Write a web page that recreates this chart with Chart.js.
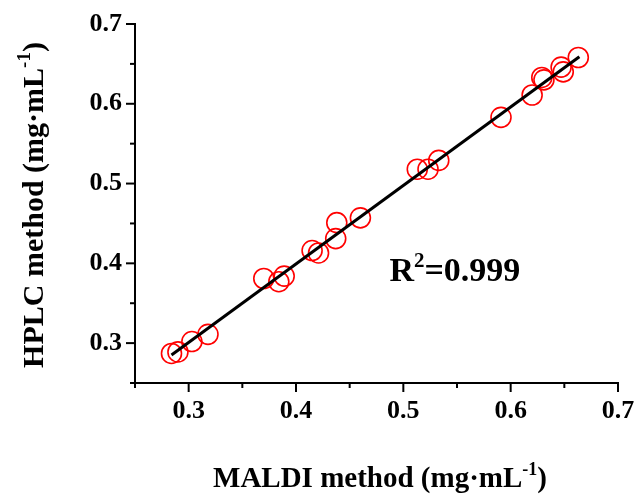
<!DOCTYPE html>
<html>
<head>
<meta charset="utf-8">
<script src="https://cdn.jsdelivr.net/npm/chart.js@4.4.1/dist/chart.umd.min.js"></script>
<style>
  html, body { margin: 0; padding: 0; background: #fff; }
  #wrap { width: 636px; height: 494px; position: relative; }
</style>
</head>
<body>
<div id="wrap"><canvas id="c"></canvas></div>
<script>
// MALDI method (x) vs HPLC method (y), mg·mL-1
const maldiValues = [0.284, 0.290, 0.303, 0.318, 0.370, 0.384, 0.389, 0.415, 0.421, 0.437, 0.438, 0.460, 0.513, 0.523, 0.533, 0.591, 0.620, 0.629, 0.631, 0.647, 0.649, 0.663];
const hplcValues  = [0.287, 0.289, 0.302, 0.311, 0.381, 0.377, 0.384, 0.416, 0.413, 0.431, 0.451, 0.457, 0.518, 0.518, 0.529, 0.583, 0.611, 0.633, 0.630, 0.646, 0.640, 0.658];
// linear fit line end points
const fitX = [0.284, 0.664];
const fitY = [0.285, 0.659];
const xTickLabels = ['0.3', '0.4', '0.5', '0.6', '0.7'];
const yTickLabels = ['0.3', '0.4', '0.5', '0.6', '0.7'];
const r2Text = { base: 'R', sup: '2', rest: '=0.999', x: 0.487, y: 0.378 };

const FONT = '"Liberation Serif", "Times New Roman", serif';

const scatterPts = maldiValues.map((v, i) => ({ x: v, y: hplcValues[i] }));
const fitPts = fitX.map((v, i) => ({ x: v, y: fitY[i] }));

function isMajor(v) { return Math.abs(v * 10 - Math.round(v * 10)) < 1e-6; }

function measureParts(ctx, parts, size) {
  let total = 0;
  const widths = parts.map(p => {
    ctx.font = 'bold ' + (p[1] ? Math.round(size * 0.62) : size) + 'px ' + FONT;
    const w = ctx.measureText(p[0]).width;
    total += w;
    return w;
  });
  return { total, widths };
}
function renderSupText(ctx, parts, size, x, y) {
  const m = measureParts(ctx, parts, size);
  let cx = x;
  parts.forEach((p, i) => {
    ctx.font = 'bold ' + (p[1] ? Math.round(size * 0.62) : size) + 'px ' + FONT;
    ctx.fillText(p[0], cx, p[1] ? y - size * 0.42 : y);
    cx += m.widths[i];
  });
  return m.total;
}

const annotPlugin = {
  id: 'annot',
  afterDraw(chart) {
    const ctx = chart.ctx;
    const xs = chart.scales.x, ys = chart.scales.y;
    ctx.save();
    ctx.fillStyle = '#000';
    ctx.strokeStyle = '#000';
    ctx.lineWidth = 2;
    xs.ticks.forEach(t => {
      const px = xs.getPixelForValue(t.value);
      const len = isMajor(t.value) ? 9 : 5;
      ctx.beginPath();
      ctx.moveTo(px, xs.top);
      ctx.lineTo(px, xs.top + len);
      ctx.stroke();
    });
    ys.ticks.forEach(t => {
      const py = ys.getPixelForValue(t.value);
      const len = isMajor(t.value) ? 9 : 5;
      ctx.beginPath();
      ctx.moveTo(ys.right, py);
      ctx.lineTo(ys.right - len, py);
      ctx.stroke();
    });
    ctx.textBaseline = 'alphabetic';
    ctx.textAlign = 'left';
    // x title
    const xParts = [['MALDI method (mg\u00B7mL', false], ['-1', true], [')', false]];
    const xm = measureParts(ctx, xParts, 29);
    renderSupText(ctx, xParts, 29, 380 - xm.total / 2, 487);
    // y title
    const yParts = [['HPLC method (mg\u00B7mL', false], ['-1', true], [')', false]];
    const ym = measureParts(ctx, yParts, 30);
    ctx.save();
    ctx.translate(43, 205);
    ctx.rotate(-Math.PI / 2);
    renderSupText(ctx, yParts, 30, -ym.total / 2, 0);
    ctx.restore();
    // R^2 annotation
    const ax = xs.getPixelForValue(r2Text.x);
    const ay = ys.getPixelForValue(r2Text.y);
    renderSupText(ctx, [[r2Text.base, false], [r2Text.sup, true], [r2Text.rest, false]], 34, ax, ay);
    ctx.restore();
  }
};

new Chart(document.getElementById('c'), {
  type: 'scatter',
  data: {
    datasets: [
      {
        type: 'line',
        data: fitPts,
        borderColor: '#000',
        borderWidth: 3,
        pointRadius: 0,
        fill: false,
        order: 0
      },
      {
        type: 'scatter',
        data: scatterPts,
        pointStyle: 'circle',
        pointRadius: 10,
        pointBorderWidth: 1.6,
        pointBorderColor: '#ff0000',
        pointBackgroundColor: 'rgba(0,0,0,0)',
        order: 1
      }
    ]
  },
  options: {
    responsive: true,
    maintainAspectRatio: false,
    animation: false,
    layout: { padding: 0 },
    plugins: { legend: { display: false }, tooltip: { enabled: false } },
    scales: {
      x: {
        type: 'linear',
        min: 0.25, max: 0.7,
        border: { display: true, color: '#000', width: 2 },
        grid: { display: true, drawOnChartArea: false, drawTicks: false },
        ticks: {
          stepSize: 0.05,
          padding: 13,
          color: '#000',
          maxRotation: 0,
          autoSkip: false,
          font: { family: FONT, weight: 'bold', size: 26 },
          callback: (v) => { const s = Number(v).toFixed(1); return isMajor(v) && xTickLabels.includes(s) ? s : ''; }
        },
        afterFit: (s) => { s.height = 111; s.paddingRight = 18; s.paddingLeft = 0; }
      },
      y: {
        type: 'linear',
        min: 0.25, max: 0.7,
        border: { display: true, color: '#000', width: 2 },
        grid: { display: true, drawOnChartArea: false, drawTicks: false },
        ticks: {
          stepSize: 0.05,
          padding: 13,
          color: '#000',
          autoSkip: false,
          font: { family: FONT, weight: 'bold', size: 26 },
          callback: (v) => { const s = Number(v).toFixed(1); return isMajor(v) && yTickLabels.includes(s) ? s : ''; }
        },
        afterFit: (s) => { s.width = 135; s.paddingTop = 24; s.paddingBottom = 0; }
      }
    }
  },
  plugins: [annotPlugin]
});
</script>
</body>
</html>
